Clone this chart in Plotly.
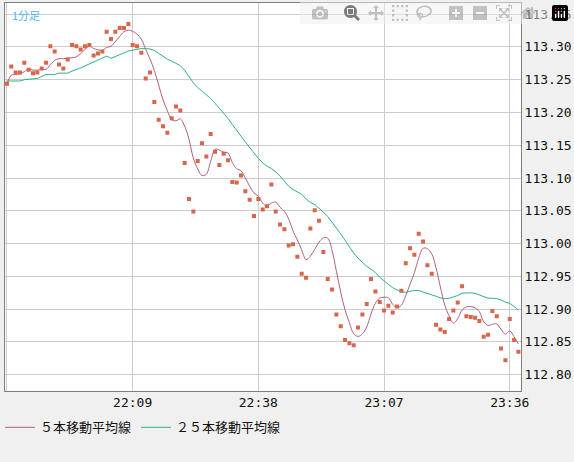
import plotly.graph_objects as go
import pandas as pd

# minute index 0 = 21:40
prices = [113.244,113.270,113.261,113.261,113.276,113.265,113.260,113.261,113.267,113.276,
          113.301,113.293,113.273,113.267,113.281,113.303,113.301,113.296,113.301,113.303,
          113.287,113.290,113.293,113.323,113.312,113.323,113.329,113.329,113.335,113.303,
          113.301,113.291,113.252,113.261,113.216,113.189,113.179,113.169,113.191,113.209,
          113.203,113.123,113.068,113.049,113.126,113.153,113.133,113.167,113.140,113.120,
          113.137,113.127,113.094,113.093,113.104,113.080,113.067,113.042,113.068,113.052,
          113.057,113.090,113.049,113.029,113.022,112.997,112.999,112.980,112.954,112.948,
          113.023,113.051,113.035,112.987,112.946,112.930,112.892,112.874,112.853,112.848,
          112.845,112.872,112.892,112.908,112.946,112.927,112.911,112.898,112.905,112.895,
          112.904,112.928,112.970,112.993,112.983,113.015,113.003,112.967,112.954,112.876,
          112.869,112.865,112.885,112.898,112.910,112.935,112.889,112.888,112.887,112.882,
          112.858,112.861,112.897,112.889,112.840,112.822,112.885,112.853,112.835]
# 25-bar MA for the first bars (history before the window)
ma25_head = [113.248,113.248,113.248,113.248,113.250,113.251,113.251,113.252,113.255,113.258,
             113.258,113.258,113.260,113.260,113.260,113.263,113.265,113.268,113.271,113.274,
             113.277,113.280,113.283,113.286]
tick_idx = [0, 29, 58, 87, 116]
tick_txt = ["", "22:09", "22:38", "23:07", "23:36"]
y_ticks = [112.80,112.85,112.90,112.95,113.00,113.05,113.10,113.15,113.20,113.25,113.30,113.35]

s = pd.Series(prices)
x = list(range(len(prices)))
ma5 = s.rolling(5, min_periods=1).mean().tolist()
ma25 = ma25_head + s.rolling(25).mean().tolist()[len(ma25_head):]

fig = go.Figure()
fig.add_trace(go.Scatter(x=x, y=ma25, mode="lines", name="２５本移動平均線",
                         line=dict(color="#2db37f", width=1)))
fig.add_trace(go.Scatter(x=x, y=ma5, mode="lines", name="５本移動平均線", line_shape="spline",
                         line=dict(color="#b0607f", width=1)))
fig.add_trace(go.Scatter(x=x, y=prices, mode="markers", showlegend=False,
                         marker=dict(symbol="square", size=4, color="#d9654a")))

fig.update_layout(
    width=574, height=462, margin=dict(l=5, r=50, t=2, b=50), autosize=False,
    paper_bgcolor="#f0f0f0", plot_bgcolor="white",
    font=dict(family="DejaVu Sans Mono", size=13, color="#111"),
    legend=dict(orientation="h", x=0.0, xref="container", y=0.075, yref="container",
                yanchor="middle", traceorder="reversed",
                font=dict(family="Noto Sans CJK JP", size=13), bgcolor="rgba(0,0,0,0)"),
    annotations=[dict(text="1分足", x=0.01, y=0.995, xref="paper", yref="paper",
                      xanchor="left", yanchor="top", showarrow=False,
                      font=dict(family="Noto Sans CJK JP", size=11, color="#4db8e8"))],
)
fig.update_xaxes(range=[-0.46, 118.6], tickvals=tick_idx, ticktext=tick_txt,
                 showgrid=True, gridcolor="#cccccc", zeroline=False,
                 showline=True, linecolor="#808080", mirror=True, ticks="")
fig.update_yaxes(range=[112.7755, 113.367], side="right", tickvals=y_ticks,
                 tickformat=".2f", showgrid=True, gridcolor="#cccccc", zeroline=False,
                 showline=True, linecolor="#808080", mirror=True, ticks="")
fig.write_html("out.html", post_script="document.body.style.margin='0';document.body.style.overflow='hidden';")
